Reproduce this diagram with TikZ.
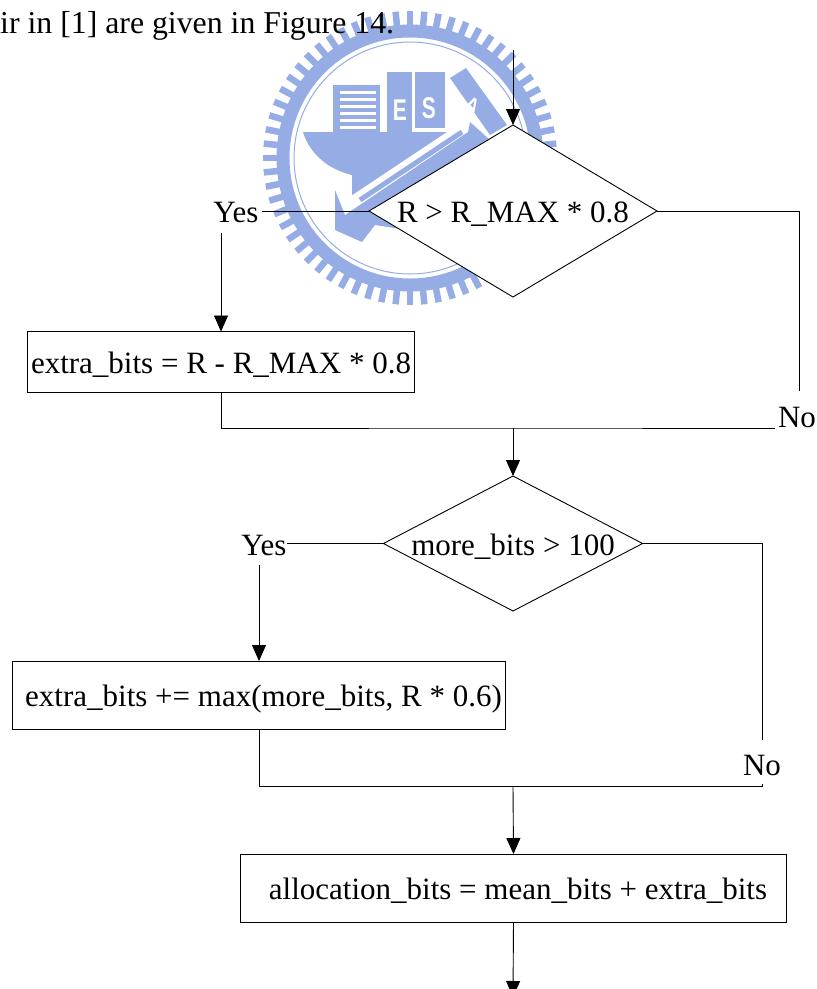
\documentclass[tikz,border=0pt]{standalone}
\usepackage{fontspec}
\setmainfont{Liberation Serif}
\setsansfont{Liberation Sans}
\usetikzlibrary{arrows.meta,shapes.geometric}
\definecolor{logoblue}{RGB}{150, 172, 228}
\tikzset{
  >={Triangle[length=16pt,width=14pt]},
  flowtext/.style={font=\fontsize{31}{34}\selectfont, text height=26pt, text depth=3pt},
  flowbox/.style={draw=black, line width=0.9pt, minimum height=68pt, inner sep=0pt, outer sep=0pt, flowtext},
  flowtest/.style={draw=black, fill=white, line width=0.9pt, diamond, inner sep=0pt, outer sep=0pt, flowtext},
  flowlabel/.style={inner sep=0pt, outer sep=0pt, flowtext},
  flowline/.style={line width=0.9pt},
  logoletter/.style={text=white, inner sep=0pt, xscale=0.7, font=\sffamily\bfseries\fontsize{30}{30}\selectfont}
}
\begin{document}
\begin{tikzpicture}[x=1pt,y=-1pt]
    \useasboundingbox (0,0) rectangle (817,989);
    % watermark
    \draw[logoblue, line width=13pt] (410,158) circle (127);
    \draw[logoblue, line width=1pt] (410,158) circle (116);
    \foreach \a in {0,5.625,...,354.375} {
      \draw[logoblue, line width=6.5pt] (410,158) ++(\a:130) -- ++(\a:17);
    }
    \fill[logoblue] (333,85) rectangle (380,132);
    \foreach \y in {91,98,...,126} {
      \fill[white] (340,\y) rectangle (376,\y+3);
    }
    \fill[logoblue] (387,72) rectangle (412,132);
    \fill[logoblue] (415,72) rectangle (445,128);
    \fill[logoblue] (450,78) -- (466,68) -- (507,125) -- (490,135) -- cycle;
    \fill[logoblue] (303,132) -- (456,132) -- (352,200) -- (352,175) .. controls (330,170) and (310,155) .. cycle;
    \fill[logoblue] (470,122) -- (468,132) -- (345,215) -- (335,190) -- (335,230) -- (362,242) -- (375,225) -- (420,232) -- (490,140) -- cycle;
    \draw[white, line width=5pt] (462,125) -- (345,203);
    \draw[logoblue, line width=5pt] (462,132) -- (360,200);
    \node[logoletter] (logoe) at (400,110) {E};
    \node[logoletter] (logos) at (429,108) {S};
    \node[logoletter, rotate=-35, font=\sffamily\bfseries\fontsize{24}{24}\selectfont] (logoa) at (473,106) {A};

    \node[anchor=base west, inner sep=0pt, font=\fontsize{31.8}{34}\selectfont] (figtext) at (0,33) {ir in [1] are given in Figure 14.};
    \coordinate (start) at (513,50);
    \node[flowtest, aspect=1.674, minimum width=288pt, minimum height=172pt] (test1) at (513,211) {R > R\_MAX * 0.8};
    \node[flowlabel] (yes1) at (236,211) {Yes};
    \node[flowbox, minimum width=387pt, minimum height=61pt] (box1) at (221,362) {extra\_bits = R - R\_MAX * 0.8};
    \node[flowlabel, anchor=base] (no1) at (797,427) {No};
    \coordinate (merge1) at (513,428);
    \node[flowtest, aspect=1.92, minimum width=259pt, minimum height=135pt] (test2) at (513,543.5) {more\_bits > 100};
    \node[flowlabel] (yes2) at (264,543.5) {Yes};
    \node[flowbox, minimum width=493pt] (box2) at (259,695) {\hspace*{9pt}extra\_bits += max(more\_bits, R * 0.6)};
    \node[flowlabel] (no2) at (762,764) {No};
    \coordinate (merge2) at (513,786);
    \node[flowbox, minimum width=546pt] (box3) at (513.5,888) {\hspace*{9pt}allocation\_bits = mean\_bits + extra\_bits};
    \coordinate (stop) at (513,997);

    \draw[flowline, ->] (start) -- (test1.north);
    \draw[flowline] (test1.west) -- ([xshift=3pt]yes1.east);
    \draw[flowline, ->] ([yshift=-7pt]yes1.south -| box1.north) -- (box1.north);
    \draw[flowline] (test1.east) -| ([yshift=10pt]no1.north -| 799,0);
    \draw[flowline] (box1.south) |- (merge1) -- ([xshift=-3pt]merge1 -| no1.west);
    \draw[flowline, ->] (merge1) -- (test2.north);
    \draw[flowline] (test2.west) -- (yes2.east);
    \draw[flowline, ->] ([yshift=-7pt]yes2.south -| box2.north) -- (box2.north);
    \draw[flowline] (test2.east) -| ([yshift=10pt]no2.north);
    \draw[flowline] (box2.south) |- (merge2) -- (merge2 -| no2) -- ++(0,-2);
    \draw[flowline, ->] (merge2) -- (box3.north);
    \draw[flowline, ->] (box3.south) -- (stop);
  \end{tikzpicture}
\end{document}
